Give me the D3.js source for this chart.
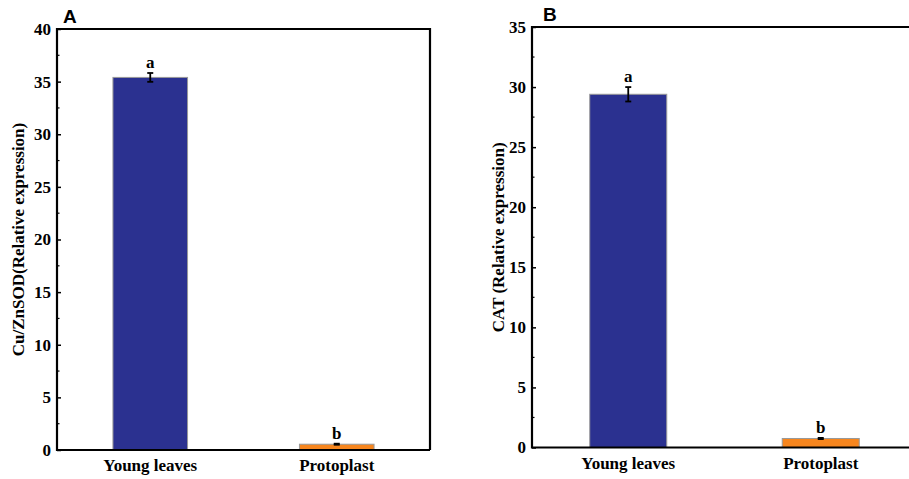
<!DOCTYPE html>
<html><head><meta charset="utf-8">
<script src="https://cdn.jsdelivr.net/npm/d3@7"></script>
<style>body{margin:0;background:#fff}svg{display:block}</style>
</head><body>
<script>
const categories = ["Young leaves", "Protoplast"];
const sodValues = [35.4, 0.55];
const sodErrors = [0.42, 0.05];
const catValues = [29.4, 0.75];
const catErrors = [0.6, 0.05];
const letters = ["a", "b"];
const sodTicks = [0, 5, 10, 15, 20, 25, 30, 35, 40];
const catTicks = [0, 5, 10, 15, 20, 25, 30, 35];
const barColors = ["#2B3190", "#F7861E"];

const W = 909, H = 479;
const svg = d3.select("body").append("svg").attr("width", W).attr("height", H);
const serif = "'Liberation Serif','Times New Roman',serif";
const sans = "'Liberation Sans',Arial,sans-serif";

function panel(o) {
  const g = svg.append("g");
  const x = d3.scalePoint().domain(categories).range([o.left, o.right]).padding(0.5);
  const y = d3.scaleLinear().domain([0, o.max]).range([o.bottom, o.top]);
  const bw = x.step() * 0.4;

  g.selectAll("rect.bar").data(o.values).join("rect")
    .attr("x", (d, i) => x(categories[i]) - bw / 2)
    .attr("y", d => y(d))
    .attr("width", bw)
    .attr("height", d => y(0) - y(d))
    .attr("fill", (d, i) => barColors[i])
    .attr("stroke", "#999").attr("stroke-width", 1);

  o.values.forEach((v, i) => {
    const cx = x(categories[i]);
    const y1 = y(v + o.errors[i]), y2 = y(v - o.errors[i]);
    g.append("line").attr("x1", cx).attr("x2", cx).attr("y1", y1).attr("y2", y2)
      .attr("stroke", "#000").attr("stroke-width", 1.8);
    [y1, y2].forEach(yy => g.append("line").attr("x1", cx - 3).attr("x2", cx + 3)
      .attr("y1", yy).attr("y2", yy).attr("stroke", "#000").attr("stroke-width", 1.8));
    g.append("text").attr("x", cx).attr("y", y1 - 5).attr("text-anchor", "middle")
      .attr("font-family", serif).attr("font-weight", "bold").attr("font-size", 17)
      .text(letters[i]);
  });

  g.append("path")
    .attr("d", `M${o.frameRight},${o.bottom}H${o.left}V${o.top}H${o.frameRight}` + (o.rightBorder ? `V${o.bottom}` : ""))
    .attr("fill", "none").attr("stroke", "#000").attr("stroke-width", 2.2);

  const yAxis = d3.axisRight(y).tickValues(o.ticks).tickSize(4).tickFormat("");
  const ga = g.append("g").attr("transform", `translate(${o.left},0)`).call(yAxis);
  ga.select(".domain").remove();
  ga.selectAll("line").attr("stroke-width", 1.5);
  const minor = d3.range(2.5, o.max, 5);
  g.selectAll("line.minor").data(minor).join("line")
    .attr("x1", o.left).attr("x2", o.left + 2.5)
    .attr("y1", d => y(d)).attr("y2", d => y(d))
    .attr("stroke", "#000").attr("stroke-width", 1.2);
  g.selectAll("text.tl").data(o.ticks).join("text")
    .attr("x", o.left - 6).attr("y", d => y(d)).attr("dy", "0.35em")
    .attr("text-anchor", "end").attr("font-family", serif).attr("font-weight", "bold")
    .attr("font-size", 17).text(d => d);

  categories.forEach(c => g.append("text").attr("x", x(c)).attr("y", o.bottom + 21)
    .attr("text-anchor", "middle").attr("font-family", serif).attr("font-weight", "bold")
    .attr("font-size", 17).text(c));

  g.append("text").attr("transform", `translate(${o.titleX},${(o.top + o.bottom) / 2}) rotate(-90)`)
    .attr("text-anchor", "middle").attr("font-family", serif).attr("font-weight", "bold")
    .attr("font-size", 17).text(o.title);

  g.append("text").attr("x", o.letterX).attr("y", o.top - 6)
    .attr("font-family", sans).attr("font-weight", "bold").attr("font-size", 19).text(o.letter);
}

panel({left: 57, right: 430, frameRight: 430, rightBorder: true, top: 29, bottom: 450, max: 40,
  values: sodValues, errors: sodErrors, ticks: sodTicks, title: "Cu/ZnSOD(Relative expression)",
  titleX: 24, letter: "A", letterX: 63});
panel({left: 532, right: 917, frameRight: 912, rightBorder: false, top: 27, bottom: 447.5, max: 35,
  values: catValues, errors: catErrors, ticks: catTicks, title: "CAT (Relative expression)",
  titleX: 504, letter: "B", letterX: 543});
</script>
</body></html>
